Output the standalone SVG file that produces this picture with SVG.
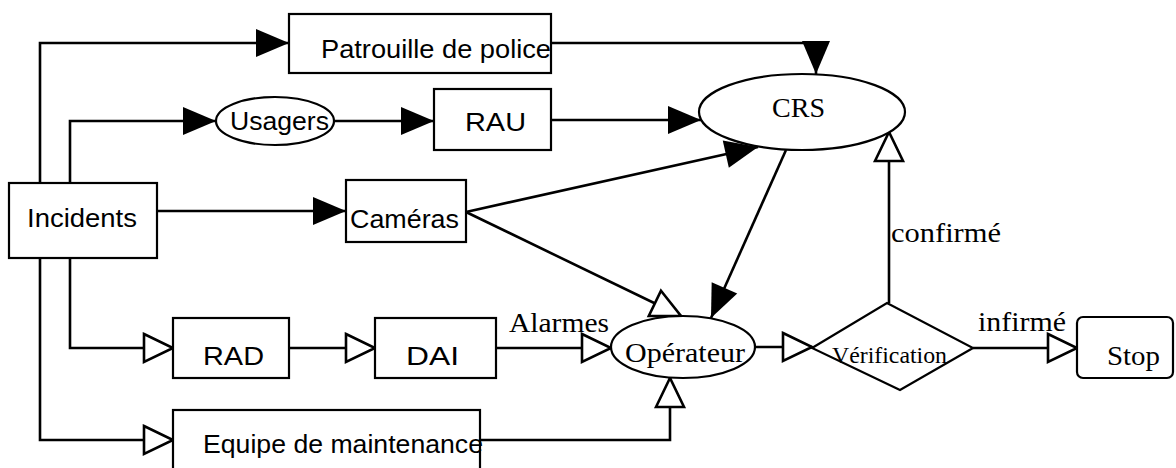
<svg xmlns="http://www.w3.org/2000/svg" width="1176" height="468" viewBox="0 0 1176 468">
<style>
.box{fill:#fff;stroke:#000;stroke-width:2.2}
.ln{fill:none;stroke:#000;stroke-width:2.6}
.sans{font-family:"Liberation Sans",Arial,sans-serif;font-size:26px;fill:#000}
.serif{font-family:"Liberation Serif","Times New Roman",serif;font-size:27px;fill:#000}
</style>
<defs>
<marker id="af" markerUnits="userSpaceOnUse" markerWidth="36" markerHeight="32" refX="33" refY="14" orient="auto" overflow="visible">
<path d="M0,0 L33,14 L0,28 Z" fill="#000"/>
</marker>
<marker id="ah" markerUnits="userSpaceOnUse" markerWidth="34" markerHeight="34" refX="30" refY="15" orient="auto" overflow="visible">
<path d="M1,1 L30,15 L1,29 Z" fill="#fff" stroke="#000" stroke-width="2.6" stroke-linejoin="miter"/>
</marker>
</defs>
<rect width="1176" height="468" fill="#fff"/>
<g id="connectors">
<path class="ln" d="M40,183 V43 H289" marker-end="url(#af)"/>
<path class="ln" d="M70,183 V121 H216" marker-end="url(#af)"/>
<path class="ln" d="M157,211 H346" marker-end="url(#af)"/>
<path class="ln" d="M70,258 V348 H173" marker-end="url(#ah)"/>
<path class="ln" d="M40,258 V440 H173" marker-end="url(#ah)"/>
<path class="ln" d="M334,121 H434" marker-end="url(#af)"/>
<path class="ln" d="M551,120 H701" marker-end="url(#af)"/>
<path class="ln" d="M551,43 H816 V74" marker-end="url(#af)"/>
<path class="ln" d="M466,212 L758,147" marker-end="url(#af)"/>
<path class="ln" d="M466,212 L681,316" marker-end="url(#ah)"/>
<path class="ln" d="M786,150 L711,318" marker-end="url(#af)"/>
<path class="ln" d="M289,348 H375" marker-end="url(#ah)"/>
<path class="ln" d="M496,348 H611" marker-end="url(#ah)"/>
<path class="ln" d="M480,440 H670 V378" marker-end="url(#ah)"/>
<path class="ln" d="M755,347 H812" marker-end="url(#ah)"/>
<path class="ln" d="M889,303 V132" marker-end="url(#ah)"/>
<path class="ln" d="M973,348 H1077" marker-end="url(#ah)"/>
<text class="serif" x="891" y="242" textLength="110" lengthAdjust="spacingAndGlyphs">confirmé</text>
<text class="serif" x="978" y="331" textLength="88" lengthAdjust="spacingAndGlyphs">infirmé</text>
<text class="serif" x="509" y="332" textLength="100" lengthAdjust="spacingAndGlyphs">Alarmes</text>
</g>
<g id="patrouille">
<rect class="box" x="289" y="14" width="262" height="59"/>
<text class="sans" x="321" y="58" textLength="230" lengthAdjust="spacingAndGlyphs">Patrouille de police</text>
</g>
<g id="usagers">
<ellipse class="box" cx="275" cy="121" rx="59" ry="24"/>
<text class="sans" x="230" y="130" textLength="99" lengthAdjust="spacingAndGlyphs">Usagers</text>
</g>
<g id="rau">
<rect class="box" x="434" y="89" width="117" height="61"/>
<text class="sans" x="465" y="131" textLength="61" lengthAdjust="spacingAndGlyphs">RAU</text>
</g>
<g id="crs">
<ellipse class="box" cx="802" cy="112" rx="103" ry="38"/>
<text class="serif" x="772" y="117" textLength="53" lengthAdjust="spacingAndGlyphs">CRS</text>
</g>
<g id="incidents">
<rect class="box" x="9" y="183" width="148" height="75"/>
<text class="sans" x="27" y="227" textLength="110" lengthAdjust="spacingAndGlyphs">Incidents</text>
</g>
<g id="cameras">
<rect class="box" x="346" y="180" width="120" height="62"/>
<text class="sans" x="350" y="228" textLength="109" lengthAdjust="spacingAndGlyphs">Caméras</text>
</g>
<g id="rad">
<rect class="box" x="173" y="318" width="116" height="60"/>
<text class="sans" x="203" y="365" textLength="61" lengthAdjust="spacingAndGlyphs">RAD</text>
</g>
<g id="dai">
<rect class="box" x="375" y="318" width="121" height="60"/>
<text class="sans" x="406" y="365" textLength="53" lengthAdjust="spacingAndGlyphs">DAI</text>
</g>
<g id="operateur">
<ellipse class="box" cx="683" cy="347" rx="72" ry="31"/>
<text class="serif" x="625" y="362" textLength="120" lengthAdjust="spacingAndGlyphs">Opérateur</text>
</g>
<g id="verification">
<polygon class="box" points="812,348 887,303 973,348 900,390"/>
<text class="serif" x="832" y="363" style="font-size:24px" textLength="115" lengthAdjust="spacingAndGlyphs">Vérification</text>
</g>
<g id="stop">
<rect class="box" x="1077" y="317" width="96" height="61" rx="6"/>
<text class="serif" x="1107" y="365" textLength="53" lengthAdjust="spacingAndGlyphs">Stop</text>
</g>
<g id="equipe">
<rect class="box" x="173" y="410" width="307" height="70"/>
<text class="sans" x="203" y="453" textLength="280" lengthAdjust="spacingAndGlyphs">Equipe de maintenance</text>
</g>
</svg>
